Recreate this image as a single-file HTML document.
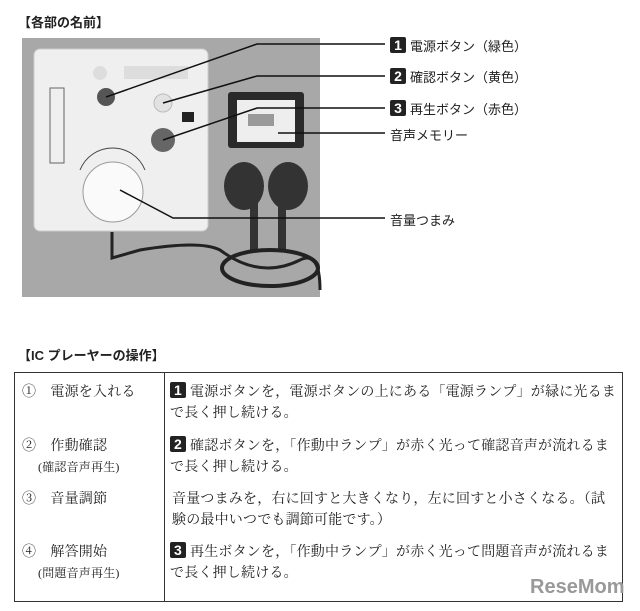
<!DOCTYPE html>
<html><head><meta charset="utf-8"><style>
body{margin:0;width:640px;height:611px;background:#fff;position:relative;overflow:hidden;font-family:"Liberation Sans","Noto Sans CJK JP",sans-serif;color:#222}
.a{position:absolute;white-space:nowrap}
.h{font-size:13px;font-weight:bold}
.lab{font-size:13px}
.num{display:inline-block;width:16px;height:16px;background:#222;color:#fff;font-weight:bold;font-size:14px;text-align:center;line-height:16px;border-radius:2px;margin-right:4px;font-family:"Liberation Sans",sans-serif;vertical-align:1px}
.t{font-size:14px;letter-spacing:0.2px;font-family:"Liberation Serif","Noto Serif CJK JP","Noto Serif CJK SC",serif;line-height:21px}
</style></head><body>
<div class="a h" style="left:18px;top:12px">【各部の名前】</div>
<svg class="a" style="left:0;top:0" width="640" height="340">
<rect x="22" y="38" width="298" height="259" fill="#a8a8a8"/>
<rect x="34" y="49" width="174" height="182" rx="6" fill="#efefef" stroke="#ccc"/>
<circle cx="100" cy="73" r="7" fill="#ddd"/>
<rect x="124" y="66" width="64" height="13" fill="#ddd"/>
<rect x="50" y="88" width="14" height="75" fill="none" stroke="#666"/>
<circle cx="106" cy="97" r="9" fill="#555"/>
<circle cx="163" cy="103" r="9" fill="#e2e2e2" stroke="#bbb"/>
<circle cx="163" cy="140" r="12" fill="#666"/>
<rect x="182" y="112" width="12" height="10" fill="#222"/>
<circle cx="113" cy="192" r="30" fill="#fafafa" stroke="#999"/>
<path d="M80 170 A35 35 0 0 1 145 170" fill="none" stroke="#444"/>
<rect x="228" y="92" width="76" height="56" rx="3" fill="#2a2a2a"/>
<rect x="237" y="100" width="58" height="42" fill="#eee"/>
<rect x="248" y="114" width="26" height="12" fill="#999"/>
<ellipse cx="244" cy="186" rx="20" ry="24" fill="#333"/>
<ellipse cx="288" cy="186" rx="20" ry="24" fill="#333"/>
<rect x="250" y="200" width="8" height="50" fill="#333"/>
<rect x="278" y="200" width="8" height="50" fill="#333"/>
<path d="M112 232 L112 258 L140 250 Q200 240 220 250 Q260 280 300 260 Q320 250 320 290" fill="none" stroke="#222" stroke-width="3"/>
<ellipse cx="270" cy="268" rx="48" ry="18" fill="none" stroke="#222" stroke-width="4"/>
<g stroke="#111" stroke-width="1.5" fill="none">
<polyline points="106,97 257,44 385,44"/>
<polyline points="163,103 257,76 385,76"/>
<polyline points="163,140 257,108 385,108"/>
<polyline points="278,133 385,133"/>
<polyline points="120,190 173,218 385,218"/>
</g>
</svg>
<div class="a lab" style="left:390px;top:36px"><span class="num">1</span>電源ボタン（緑色）</div>
<div class="a lab" style="left:390px;top:67px"><span class="num">2</span>確認ボタン（黄色）</div>
<div class="a lab" style="left:390px;top:99px"><span class="num">3</span>再生ボタン（赤色）</div>
<div class="a lab" style="left:390px;top:125px">音声メモリー</div>
<div class="a lab" style="left:390px;top:210px">音量つまみ</div>
<div class="a h" style="left:18px;top:345px">【IC プレーヤーの操作】</div>
<div class="a" style="left:14px;top:372px;width:607px;height:228px;border:1px solid #333"></div>
<div class="a" style="left:164px;top:372px;width:1px;height:229px;background:#333"></div>
<div class="a t" style="left:22px;top:382px">①　電源を入れる</div>
<div class="a t" style="left:22px;top:436px">②　作動確認<br><span style="font-size:12px;padding-left:16px">(確認音声再生)</span></div>
<div class="a t" style="left:22px;top:489px">③　音量調節</div>
<div class="a t" style="left:22px;top:542px">④　解答開始<br><span style="font-size:12px;padding-left:16px">(問題音声再生)</span></div>
<div class="a t" style="left:170px;top:382px"><span class="num">1</span>電源ボタンを，電源ボタンの上にある「電源ランプ」が緑に光るま<br>で長く押し続ける。</div>
<div class="a t" style="left:170px;top:436px"><span class="num">2</span>確認ボタンを，「作動中ランプ」が赤く光って確認音声が流れるま<br>で長く押し続ける。</div>
<div class="a t" style="left:172px;top:489px">音量つまみを，右に回すと大きくなり，左に回すと小さくなる。（試<br>験の最中いつでも調節可能です。）</div>
<div class="a t" style="left:170px;top:542px"><span class="num">3</span>再生ボタンを，「作動中ランプ」が赤く光って問題音声が流れるま<br>で長く押し続ける。</div>
<div class="a" style="left:530px;top:576px;font-size:20px;font-weight:bold;color:#999">ReseMom</div>
</body></html>
